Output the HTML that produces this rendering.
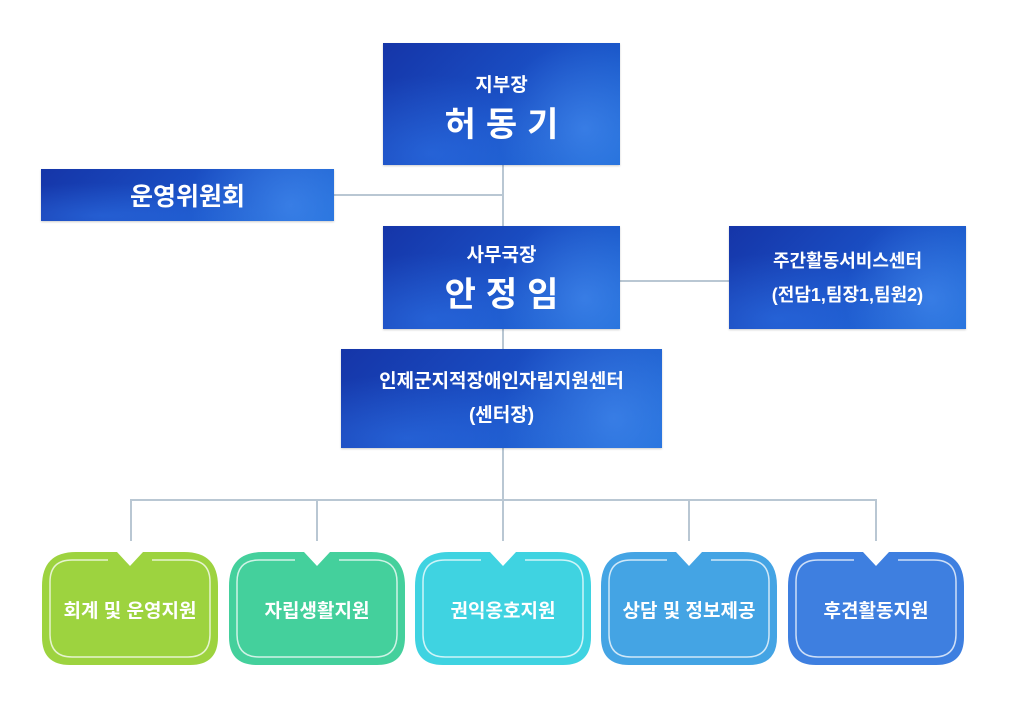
<!DOCTYPE html>
<html><head><meta charset="utf-8"><style>
body{margin:0;width:1020px;height:703px;background:#fff;position:relative;overflow:hidden;font-family:"Liberation Sans","Noto Sans CJK KR",sans-serif}
.b{position:absolute;color:#fff;text-align:center;display:flex;flex-direction:column;justify-content:center;align-items:center;
background:radial-gradient(circle at 85% 70%,rgba(90,160,255,.45),transparent 40%),radial-gradient(ellipse at 20% 90%,rgba(60,140,255,.35),transparent 50%),linear-gradient(135deg,#1535a8 0%,#1a4fc4 50%,#1d6ad6 100%);box-shadow:0 1px 2px rgba(0,0,0,.2)}
.l{position:absolute;background:#b9c7d3}
.g{position:absolute;width:176px;height:113px;top:552px}
.g svg{position:absolute;left:0;top:0}
.g span{position:absolute;left:0;right:0;top:44px;text-align:center;color:#fff;font-size:19px;font-weight:bold}
</style></head><body>
<div class="l" style="left:502px;top:165px;width:2px;height:184px"></div>
<div class="l" style="left:334px;top:194px;width:170px;height:2px"></div>
<div class="l" style="left:620px;top:280px;width:109px;height:2px"></div>
<div class="l" style="left:502px;top:448px;width:2px;height:53px"></div>
<div class="l" style="left:130px;top:499px;width:747px;height:2px"></div>
<div class="l" style="left:130px;top:499px;width:2px;height:42px"></div>
<div class="l" style="left:316px;top:499px;width:2px;height:42px"></div>
<div class="l" style="left:502px;top:499px;width:2px;height:42px"></div>
<div class="l" style="left:688px;top:499px;width:2px;height:42px"></div>
<div class="l" style="left:875px;top:499px;width:2px;height:42px"></div>

<div class="b" style="left:383px;top:43px;width:237px;height:122px"><div style="font-size:19px;font-weight:bold;margin-top:8px">지부장</div><div style="font-size:34px;font-weight:bold;letter-spacing:10px;margin-left:10px">허동기</div></div>
<div class="b" style="left:41px;top:169px;width:293px;height:52px"><div style="font-size:25px;font-weight:bold">운영위원회</div></div>
<div class="b" style="left:383px;top:226px;width:237px;height:103px"><div style="font-size:19px;font-weight:bold">사무국장</div><div style="font-size:34px;font-weight:bold;letter-spacing:10px;margin-left:10px">안정임</div></div>
<div class="b" style="left:729px;top:226px;width:237px;height:103px"><div style="font-size:18px;font-weight:bold;line-height:34px">주간활동서비스센터<br>(전담1,팀장1,팀원2)</div></div>
<div class="b" style="left:341px;top:349px;width:321px;height:99px"><div style="font-size:19px;font-weight:bold;line-height:34px">인제군지적장애인자립지원센터<br>(센터장)</div></div>

<div id="g"></div>
<script>
var c=[["#9dd33f","회계 및 운영지원",42],["#44d09c","자립생활지원",229],["#3fd3e1","권익옹호지원",415],["#44a4e4","상담 및 정보제공",601],["#3e7fe0","후견활동지원",788]];
var h="";
c.forEach(function(x){
h+='<div class="g" style="left:'+x[2]+'px"><svg width="176" height="113"><path d="M0,34 Q0,0 34,0 L75,0 L88,14 L101,0 L142,0 Q176,0 176,34 L176,85 Q176,113 148,113 L28,113 Q0,113 0,85 Z" fill="'+x[0]+'"/><path d="M66,8 L30,8 Q8,8 8,30 L8,82 Q8,105 30,105 L146,105 Q168,105 168,82 L168,30 Q168,8 146,8 L110,8" fill="none" stroke="rgba(255,255,255,.75)" stroke-width="1.5"/></svg><span>'+x[1]+'</span></div>';});
document.getElementById("g").innerHTML=h;
</script>
</body></html>
